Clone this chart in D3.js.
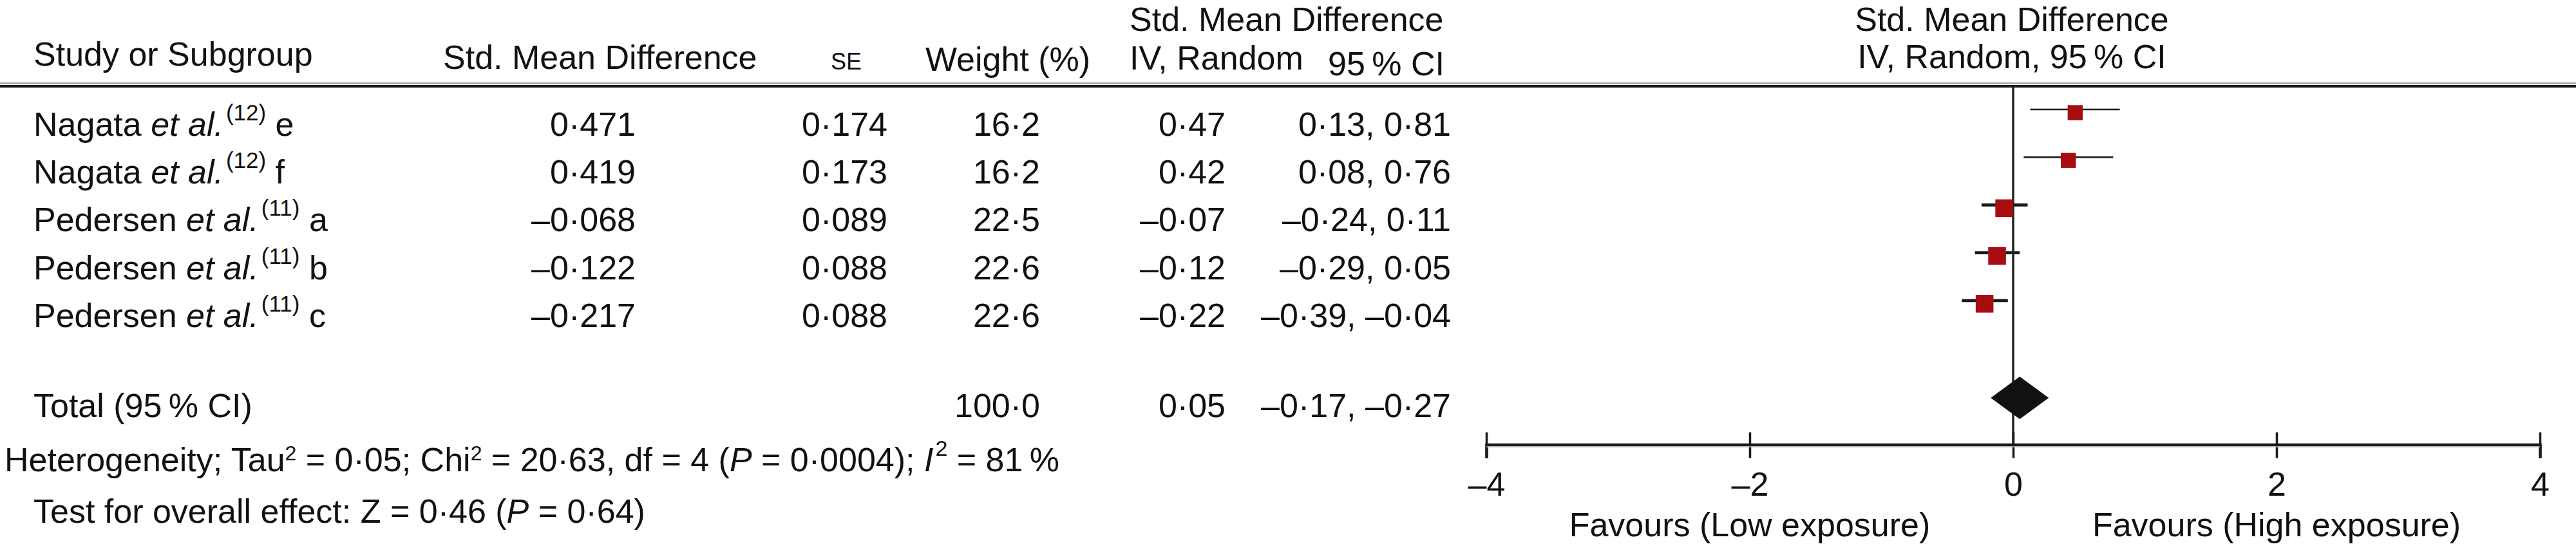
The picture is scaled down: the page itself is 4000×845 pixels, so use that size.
<!DOCTYPE html>
<html>
<head>
<meta charset="utf-8">
<script src="https://cdn.jsdelivr.net/npm/d3@7"></script>
<style>
  html, body { margin: 0; padding: 0; background: #fff; }
  svg { display: block; }
  text { font-family: "Liberation Sans", Arial, Helvetica, sans-serif; fill: #111; }
</style>
</head>
<body>
<div id="chart"></div>
<script>
// ---------------- data ----------------
const studyNames = ["Nagata", "Nagata", "Pedersen", "Pedersen", "Pedersen"];
const studyRefs = ["12", "12", "11", "11", "11"];
const studySuffix = ["e", "f", "a", "b", "c"];
const smdValues = [0.471, 0.419, -0.068, -0.122, -0.217];
const seValues = [0.174, 0.173, 0.089, 0.088, 0.088];
const weightValues = [16.2, 16.2, 22.5, 22.6, 22.6];
const estValues = [0.47, 0.42, -0.07, -0.12, -0.22];
const ciLowValues = [0.13, 0.08, -0.24, -0.29, -0.39];
const ciHighValues = [0.81, 0.76, 0.11, 0.05, -0.04];
const totalWeight = 100.0;
const totalEst = 0.05;
const totalLow = -0.17;
const totalHigh = 0.27;
const totalCiLabel = "\u20130\u00b717, \u20130\u00b727";
const xTicks = [-4, -2, 0, 2, 4];
const favoursLabels = ["Favours (Low exposure)", "Favours (High exposure)"];
const favoursAt = [-2, 2];

// ---------------- helpers ----------------
const fmt = (v, d) => {
  const s = Math.abs(v).toFixed(d).replace(".", "\u00b7");
  return (v < 0 ? "\u2013" : "") + s;
};
const fmtTick = v => (v < 0 ? "\u2013" : "") + Math.abs(v);

const W = 4000, H = 845;
const FS = 52;
const svg = d3.select("#chart").append("svg")
  .attr("width", W).attr("height", H)
  .attr("viewBox", `0 0 ${W} ${H}`);

const x = d3.scaleLinear().domain([-4, 4]).range([2308, 3944]);
const idx = d3.range(studyNames.length);
const rowY = d3.scaleLinear().domain([0, 1]).range([170, 244.2]); // marker line y
const textY = i => rowY(i) + 41;
const side = d3.scaleSqrt().domain([0, 100]).range([0, 58]);
const ciWidth = d3.scaleLinear().domain([16.2, 22.6]).range([2.7, 4.7]).clamp(true);

const T = (xx, yy, str, anchor = "start", size = FS) =>
  svg.append("text").attr("x", xx).attr("y", yy)
    .attr("text-anchor", anchor).attr("font-size", size).text(str);

// ---------------- header ----------------
T(52, 102, "Study or Subgroup");
T(688, 107, "Std. Mean Difference");
T(1314, 108, "SE", "middle", 36);
T(1565, 110, "Weight (%)", "middle");
T(1754, 48, "Std. Mean Difference");
T(1754, 108, "IV, Random");
T(2062, 117, "95\u2009% CI");
T(3124, 48, "Std. Mean Difference", "middle");
T(3124, 106, "IV, Random, 95\u2009% CI", "middle");

// header rule (grey + dark)
svg.append("line").attr("x1", 0).attr("x2", W).attr("y1", 129.5).attr("y2", 129.5)
  .attr("stroke", "#a8aaa2").attr("stroke-width", 3);
svg.append("line").attr("x1", 0).attr("x2", W).attr("y1", 134).attr("y2", 134)
  .attr("stroke", "#1c1c1c").attr("stroke-width", 4);

// ---------------- study rows ----------------
idx.forEach(i => {
  const y = textY(i);
  const t = svg.append("text").attr("x", 52).attr("y", y).attr("font-size", FS);
  t.append("tspan").text(studyNames[i] + " ");
  t.append("tspan").attr("font-style", "italic").text("et al.");
  t.append("tspan").attr("font-size", 35).attr("dy", -24).attr("dx", 4).text("(" + studyRefs[i] + ")");
  t.append("tspan").attr("dy", 24).text(" " + studySuffix[i]);

  T(987, y, fmt(smdValues[i], 3), "end");
  T(1378, y, fmt(seValues[i], 3), "end");
  T(1615, y, fmt(weightValues[i], 1), "end");
  T(1903, y, fmt(estValues[i], 2), "end");
  T(2253, y, fmt(ciLowValues[i], 2) + ", " + fmt(ciHighValues[i], 2), "end");
});

// ---------------- total + footers ----------------
T(52, 648, "Total (95\u2009% CI)");
T(1615, 648, fmt(totalWeight, 1), "end");
T(1903, 648, fmt(totalEst, 2), "end");
T(2253, 648, totalCiLabel, "end");

{
  const t = svg.append("text").attr("x", 7).attr("y", 732).attr("font-size", FS);
  t.append("tspan").text("Heterogeneity; Tau");
  t.append("tspan").attr("font-size", 32).attr("dy", -17).text("2");
  t.append("tspan").attr("dy", 17).text(" = 0\u00b705; Chi");
  t.append("tspan").attr("font-size", 32).attr("dy", -17).text("2");
  t.append("tspan").attr("dy", 17).text(" = 20\u00b763, df = 4 (");
  t.append("tspan").attr("font-style", "italic").text("P");
  t.append("tspan").text(" = 0\u00b70004); ");
  t.append("tspan").attr("font-style", "italic").text("I");
  t.append("tspan").attr("font-size", 34).attr("dy", -24).attr("dx", 3).text("2");
  t.append("tspan").attr("dy", 24).text(" = 81\u2009%");
}
{
  const t = svg.append("text").attr("x", 52).attr("y", 812).attr("font-size", FS);
  t.append("tspan").text("Test for overall effect: Z = 0\u00b746 (");
  t.append("tspan").attr("font-style", "italic").text("P");
  t.append("tspan").text(" = 0\u00b764)");
}

// ---------------- forest plot ----------------
const axisY = 690.5;
// zero line
svg.append("line").attr("x1", x(0)).attr("x2", x(0)).attr("y1", 136).attr("y2", axisY)
  .attr("stroke", "#222").attr("stroke-width", 3.5);

// CI lines
svg.append("g").selectAll("line").data(idx).join("line")
  .attr("x1", i => x(ciLowValues[i])).attr("x2", i => x(ciHighValues[i]))
  .attr("y1", i => rowY(i)).attr("y2", i => rowY(i))
  .attr("stroke", "#1a1a1a")
  .attr("stroke-width", i => ciWidth(weightValues[i]));

// squares
svg.append("g").selectAll("rect").data(idx).join("rect")
  .attr("x", i => x(smdValues[i]) - side(weightValues[i]) / 2)
  .attr("y", i => rowY(i) + 5 - side(weightValues[i]) / 2)
  .attr("width", i => side(weightValues[i]))
  .attr("height", i => side(weightValues[i]))
  .attr("fill", "#a70d10");

// diamond
const dY = 618, dH = 33;
svg.append("path")
  .attr("d", d3.line()([
    [x(totalLow), dY], [x(totalEst), dY - dH], [x(totalHigh), dY], [x(totalEst), dY + dH]
  ]) + "Z")
  .attr("fill", "#111");

// axis
const axis = d3.axisBottom(x).tickValues(xTicks).tickSizeOuter(0).tickSize(21).tickFormat(fmtTick);
const gA = svg.append("g").attr("transform", `translate(0,${axisY})`).call(axis);
gA.select(".domain").attr("stroke", "#1a1a1a").attr("stroke-width", 4.5);
gA.selectAll(".tick line").attr("y1", -19).attr("y2", 21).attr("stroke", "#1a1a1a").attr("stroke-width", 3.5);
gA.selectAll(".tick text").attr("y", 770 - axisY).attr("dy", null)
  .attr("font-size", FS).attr("fill", "#111")
  .style("font-family", '"Liberation Sans", Arial, sans-serif');
svg.append("line").attr("x1", x(-4)).attr("x2", x(4)).attr("y1", axisY + 3.5).attr("y2", axisY + 3.5)
  .attr("stroke", "#b5b7ae").attr("stroke-width", 1.5);

// favours labels
favoursLabels.forEach((lab, k) => T(x(favoursAt[k]), 833, lab, "middle"));
</script>
</body>
</html>
